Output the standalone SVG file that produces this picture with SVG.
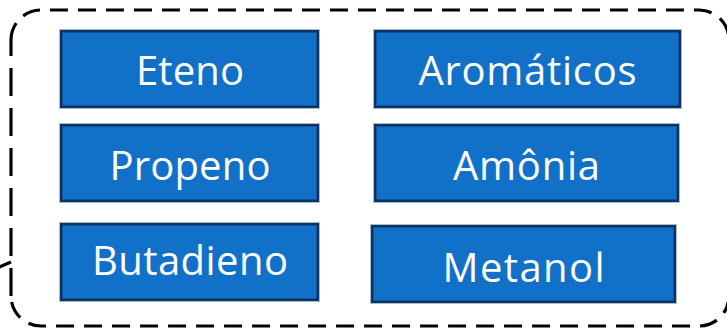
<svg xmlns="http://www.w3.org/2000/svg" width="727" height="328" viewBox="0 0 727 328">
  <style>
    .edge { fill: none; stroke: #000; stroke-width: 3.2; }
    .edge-h { stroke-dasharray: 18 10; }
    .edge-v { stroke-dasharray: 28 12; }
    .halo { fill: none; stroke: #a9bccf; stroke-width: 1; }
    .box { fill: #1170c7; stroke: #0c3462; stroke-width: 2.5; }
    .label { fill: #fff; font-family: "Open Sans", "Noto Sans", sans-serif; font-size: 40px; text-anchor: middle; }
  </style>

  <!-- dashed callout frame around the product list -->
  <g id="frame">
    <path class="edge edge-h" d="M11 40 A30 30 0 0 1 41 10 H699 A30 30 0 0 1 729 40"/>
    <path class="edge edge-v" d="M729 40 V296"/>
    <path class="edge edge-h" d="M729 296 A30 30 0 0 1 699 326 H41 A30 30 0 0 1 11 296"/>
    <path class="edge edge-v" d="M11 296 V40"/>
    <path class="edge" d="M11 262 L-10 271"/>
  </g>

  <g id="connectors"></g>

  <!-- left column -->
  <g id="eteno">
    <rect class="halo" x="59.5" y="29.5" width="260" height="79"/>
    <rect class="box" x="61.25" y="31.25" width="256.5" height="75.5"/>
    <text class="label" x="190" y="85" textLength="108">Eteno</text>
  </g>
  <g id="propeno">
    <rect class="halo" x="59.5" y="123.5" width="260" height="79"/>
    <rect class="box" x="61.25" y="125.25" width="256.5" height="75.5"/>
    <text class="label" x="190" y="180" textLength="161">Propeno</text>
  </g>
  <g id="butadieno">
    <rect class="halo" x="59.5" y="222.5" width="260" height="79"/>
    <rect class="box" x="61.25" y="224.25" width="256.5" height="75.5"/>
    <text class="label" x="190" y="275" textLength="196">Butadieno</text>
  </g>

  <!-- right column -->
  <g id="aromaticos">
    <rect class="halo" x="373.5" y="29.5" width="308" height="79"/>
    <rect class="box" x="375.25" y="31.25" width="304.5" height="75.5"/>
    <text class="label" x="527.5" y="85" textLength="218">Aromáticos</text>
  </g>
  <g id="amonia">
    <rect class="halo" x="373.5" y="123.5" width="306" height="79"/>
    <rect class="box" x="375.25" y="125.25" width="302.5" height="75.5"/>
    <text class="label" x="526.5" y="180" textLength="147">Amônia</text>
  </g>
  <g id="metanol">
    <rect class="halo" x="370.5" y="224.5" width="306" height="79"/>
    <rect class="box" x="372.25" y="226.25" width="302.5" height="75.5"/>
    <text class="label" x="523.5" y="281.5" textLength="162">Metanol</text>
  </g>
</svg>
